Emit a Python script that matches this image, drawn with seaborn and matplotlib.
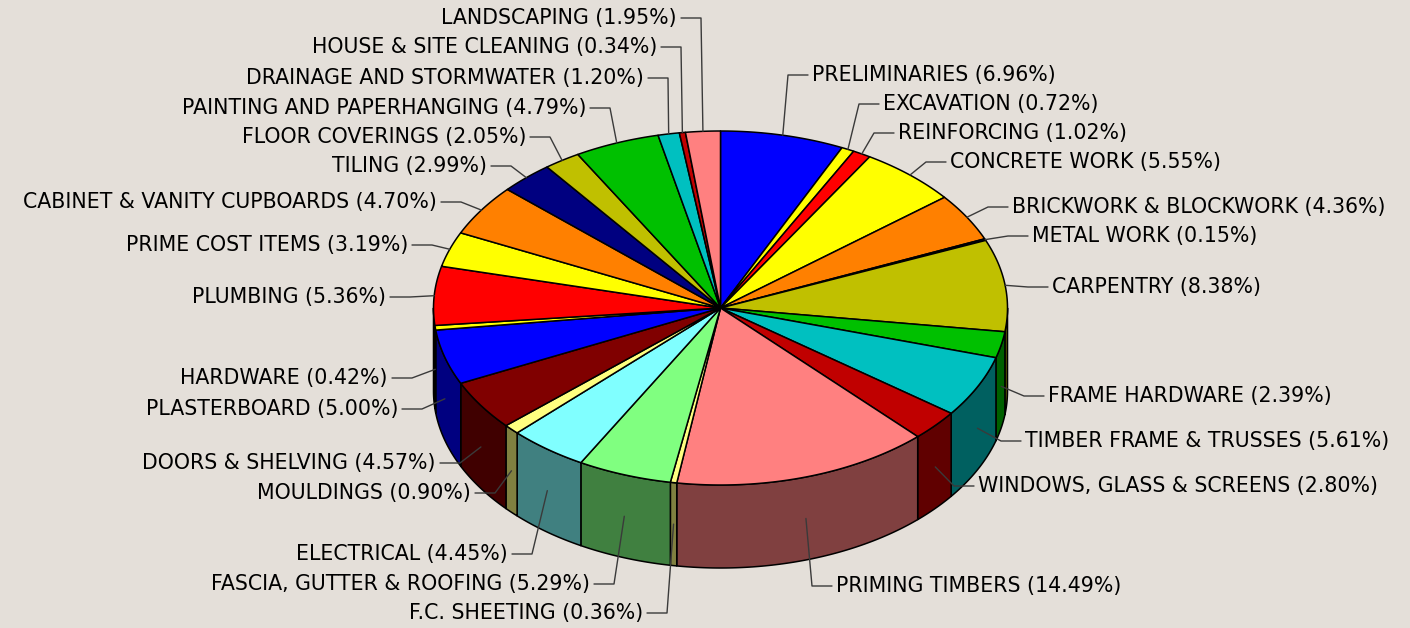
import numpy as np
import matplotlib.pyplot as plt
import matplotlib.colors as mcolors
from matplotlib.patches import Polygon
import seaborn as sns

# slices in clockwise order starting at 12 o'clock
categories = ['PRELIMINARIES', 'EXCAVATION', 'REINFORCING', 'CONCRETE WORK',
              'BRICKWORK & BLOCKWORK', 'METAL WORK', 'CARPENTRY', 'FRAME HARDWARE',
              'TIMBER FRAME & TRUSSES', 'WINDOWS, GLASS & SCREENS', 'PRIMING TIMBERS',
              'F.C. SHEETING', 'FASCIA, GUTTER & ROOFING', 'ELECTRICAL', 'MOULDINGS',
              'DOORS & SHELVING', 'PLASTERBOARD', 'HARDWARE', 'PLUMBING',
              'PRIME COST ITEMS', 'CABINET & VANITY CUPBOARDS', 'TILING',
              'FLOOR COVERINGS', 'PAINTING AND PAPERHANGING', 'DRAINAGE AND STORMWATER',
              'HOUSE & SITE CLEANING', 'LANDSCAPING']
shares = [6.96, 0.72, 1.02, 5.55, 4.36, 0.15, 8.38, 2.39, 5.61, 2.80, 14.49,
          0.36, 5.29, 4.45, 0.90, 4.57, 5.00, 0.42, 5.36, 3.19, 4.70, 2.99,
          2.05, 4.79, 1.20, 0.34, 1.95]

# 16 colour cycle of the original chart
palette = ['#0000ff', '#ffff00', '#ff0000', '#ffff00', '#ff8000', '#000080',
           '#c0c000', '#00c000', '#00c0c0', '#c00000', '#ff8080', '#ffff80',
           '#80ff80', '#80ffff', '#ffff80', '#800000']
colors = [palette[i % len(palette)] for i in range(len(categories))]

# label anchor: text start (right side) or text end (left side), text centre y
label_x = [812, 883, 898, 950, 1012, 1032, 1052, 1048, 1025, 978, 836,
           643, 590, 508, 471, 436, 398, 388, 386, 408, 437, 487, 526, 586, 644, 657, 677]
label_y = [75, 104, 133, 162, 207, 236, 287, 396, 441, 486, 586,
           613, 584, 554, 493, 463, 409, 378, 297, 245, 202, 166, 137, 108, 78, 47, 18]

sns.set_style('white')
plt.rcParams['font.family'] = ['DejaVu Sans']

bg = '#e4dfd9'
fig = plt.figure(figsize=(14.1, 6.28), dpi=100)
fig.patch.set_facecolor(bg)
ax = fig.add_axes([0, 0, 1, 1])
ax.set_facecolor(bg)
ax.set_xlim(0, 1410)
ax.set_ylim(628, 0)
ax.axis('off')

cx, cy, rx, ry, depth = 720.5, 308, 287, 177, 83


def rim(t):
    t = np.radians(t)
    return cx + rx * np.cos(t), cy - ry * np.sin(t)


total = sum(shares)
ends = 90 - 360 * np.cumsum(shares) / total
starts = np.concatenate([[90], ends[:-1]])

# side walls (front half only)
for s, e, c in zip(starts, ends, colors):
    a, b = max(e, -180), min(s, 0)
    if b <= a:
        continue
    t = np.linspace(b, a, 80)
    x, y = rim(t)
    pts = np.column_stack([np.r_[x, x[::-1]], np.r_[y, y[::-1] + depth]])
    side = np.array(mcolors.to_rgb(c)) * 0.5
    ax.add_patch(Polygon(pts, closed=True, fc=side, ec='black', lw=1.1, joinstyle='round'))

# top faces
for s, e, c in zip(starts, ends, colors):
    t = np.linspace(s, e, max(4, int(abs(s - e) * 3)))
    x, y = rim(t)
    pts = np.column_stack([np.r_[cx, x], np.r_[cy, y]])
    ax.add_patch(Polygon(pts, closed=True, fc=c, ec='black', lw=1.1, joinstyle='round'))

# labels with leader lines
for i, name in enumerate(categories):
    mid = (starts[i] + ends[i]) / 2
    px, py = rim(mid)
    if np.sin(np.radians(mid)) < 0:
        py += depth / 2
    tx, ty = label_x[i], label_y[i]
    right = tx > px
    ex = tx - 24 if right else tx + 24
    hx = tx - 4 if right else tx + 4
    ax.plot([px, ex, hx], [py, ty, ty], color='#3a3a3a', lw=1)
    ax.text(tx, ty, f'{name} ({shares[i]:.2f}%)', ha='left' if right else 'right',
            va='center', fontsize=14.8, color='black')

fig.savefig('out.png', dpi=100, facecolor=bg)
